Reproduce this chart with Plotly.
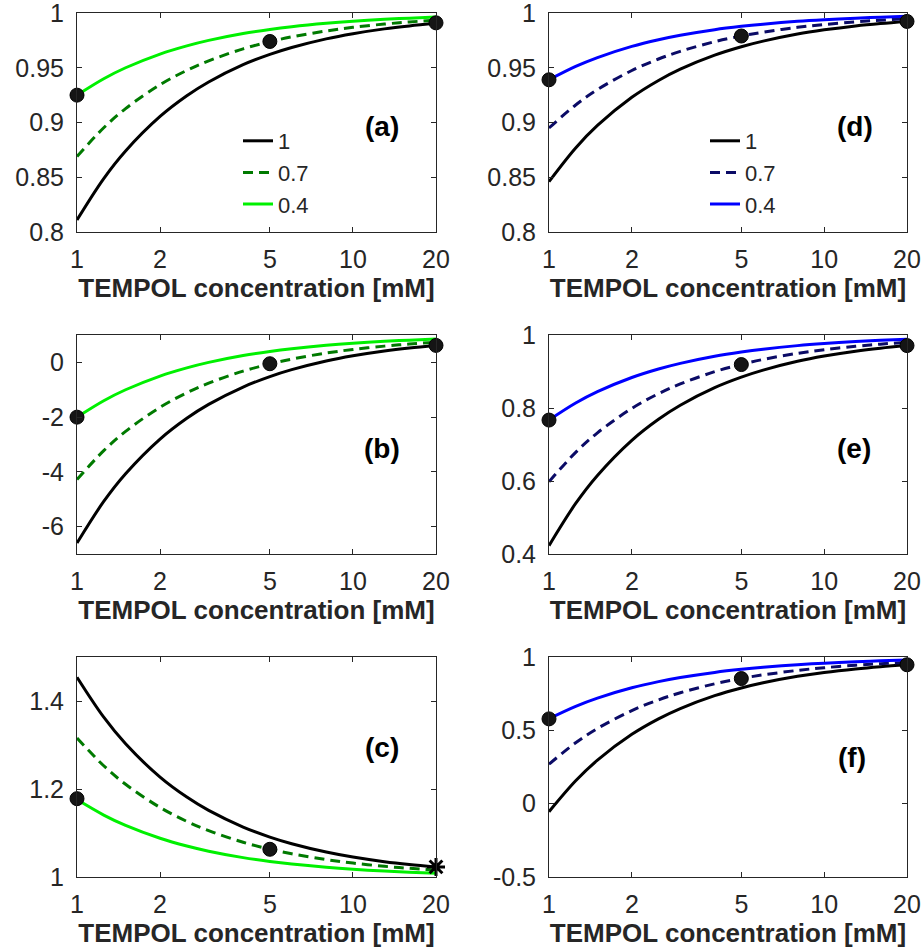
import plotly.graph_objects as go

# TEMPOL concentration grid [mM]
conc = [1, 1.25, 1.5, 2, 2.5, 3, 4, 5, 6, 8, 10, 13, 16, 20]

# Panel (a)
a_1 = [0.811, 0.8488, 0.874, 0.9055, 0.9244, 0.937, 0.9528, 0.9622, 0.9685, 0.9764, 0.9811, 0.9855, 0.9882, 0.9906]
a_07 = [0.869, 0.8952, 0.9127, 0.9345, 0.9476, 0.9563, 0.9673, 0.9738, 0.9782, 0.9836, 0.9869, 0.9899, 0.9918, 0.9935]
a_04 = [0.925, 0.94, 0.95, 0.9625, 0.97, 0.975, 0.9813, 0.985, 0.9875, 0.9906, 0.9925, 0.9942, 0.9953, 0.9963]
a_pts = [0.925, 0.974, 0.991]

# Panel (b)
b_1 = [-6.6, -5.08, -4.067, -2.8, -2.04, -1.533, -0.9, -0.52, -0.267, 0.05, 0.24, 0.4154, 0.525, 0.62]
b_07 = [-4.28, -3.224, -2.52, -1.64, -1.112, -0.76, -0.32, -0.056, 0.12, 0.34, 0.472, 0.5938, 0.67, 0.736]
b_04 = [-2.0, -1.4, -1.0, -0.5, -0.2, 0.0, 0.25, 0.4, 0.5, 0.625, 0.7, 0.7692, 0.8125, 0.85]
b_pts = [-2.0, -0.05, 0.62]

# Panel (c)
c_1 = [1.454, 1.3632, 1.3027, 1.227, 1.1816, 1.1513, 1.1135, 1.0908, 1.0757, 1.0568, 1.0454, 1.0349, 1.0284, 1.0227]
c_07 = [1.316, 1.2528, 1.2107, 1.158, 1.1264, 1.1053, 1.079, 1.0632, 1.0527, 1.0395, 1.0316, 1.0243, 1.0198, 1.0158]
c_04 = [1.176, 1.1408, 1.1173, 1.088, 1.0704, 1.0587, 1.044, 1.0352, 1.0293, 1.022, 1.0176, 1.0135, 1.011, 1.0088]
c_pts = [1.178, 1.063]
c_star = [1.023]

# Panel (d)
d_1 = [0.846, 0.8768, 0.8973, 0.923, 0.9384, 0.9487, 0.9615, 0.9692, 0.9743, 0.9808, 0.9846, 0.9882, 0.9904, 0.9923]
d_07 = [0.895, 0.916, 0.93, 0.9475, 0.958, 0.965, 0.9738, 0.979, 0.9825, 0.9869, 0.9895, 0.9919, 0.9934, 0.9948]
d_04 = [0.939, 0.9512, 0.9593, 0.9695, 0.9756, 0.9797, 0.9848, 0.9878, 0.9898, 0.9924, 0.9939, 0.9953, 0.9962, 0.997]
d_pts = [0.939, 0.979, 0.9923]

# Panel (e)
e_1 = [0.423, 0.5384, 0.6153, 0.7115, 0.7692, 0.8077, 0.8558, 0.8846, 0.9038, 0.9279, 0.9423, 0.9556, 0.9639, 0.9712]
e_07 = [0.598, 0.6784, 0.732, 0.799, 0.8392, 0.866, 0.8995, 0.9196, 0.933, 0.9498, 0.9598, 0.9691, 0.9749, 0.9799]
e_04 = [0.767, 0.8136, 0.8447, 0.8835, 0.9068, 0.9223, 0.9418, 0.9534, 0.9612, 0.9709, 0.9767, 0.9821, 0.9854, 0.9884]
e_pts = [0.767, 0.919, 0.971]

# Panel (f)
f_1 = [-0.055, 0.156, 0.2967, 0.4725, 0.578, 0.6483, 0.7363, 0.789, 0.8242, 0.8681, 0.8945, 0.9188, 0.9341, 0.9473]
f_07 = [0.269, 0.4152, 0.5127, 0.6345, 0.7076, 0.7563, 0.8173, 0.8538, 0.8782, 0.9086, 0.9269, 0.9438, 0.9543, 0.9635]
f_04 = [0.58, 0.664, 0.72, 0.79, 0.832, 0.86, 0.895, 0.916, 0.93, 0.9475, 0.958, 0.9677, 0.9738, 0.979]
f_pts = [0.578, 0.853, 0.947]

pts_x = [1, 5, 20]
series_names = ["1", "0.7", "0.4"]

x_ticks = [1, 2, 5, 10, 20]
x_ticktext = ["1", "2", "5", "10", "20"]

FONT = "Liberation Sans, Arial, Helvetica, sans-serif"
AX = "#262626"
GREEN_L = "#00F000"
GREEN_D = "#007A00"
BLUE_L = "#0000FF"
BLUE_D = "#0B0B66"

panels = [
    dict(key="a", col=0, row=0, ys=[a_1, a_07, a_04], cols=["black", GREEN_D, GREEN_L],
         pts=a_pts, yr=[0.8, 1.0], yt=[0.8, 0.85, 0.9, 0.95, 1.0],
         ytt=["0.8", "0.85", "0.9", "0.95", "1"], lab="(a)", lx=0.85, ly=0.48, legend="legend"),
    dict(key="b", col=0, row=1, ys=[b_1, b_07, b_04], cols=["black", GREEN_D, GREEN_L],
         pts=b_pts, yr=[-7, 1], yt=[-6, -4, -2, 0],
         ytt=["-6", "-4", "-2", "0"], lab="(b)", lx=0.85, ly=0.484, legend=None),
    dict(key="c", col=0, row=2, ys=[c_1, c_07, c_04], cols=["black", GREEN_D, GREEN_L],
         pts=c_pts, yr=[1.0, 1.5], yt=[1.0, 1.2, 1.4],
         ytt=["1", "1.2", "1.4"], lab="(c)", lx=0.85, ly=0.589, legend=None),
    dict(key="d", col=1, row=0, ys=[d_1, d_07, d_04], cols=["black", BLUE_D, BLUE_L],
         pts=d_pts, yr=[0.8, 1.0], yt=[0.8, 0.85, 0.9, 0.95, 1.0],
         ytt=["0.8", "0.85", "0.9", "0.95", "1"], lab="(d)", lx=0.855, ly=0.48, legend="legend2"),
    dict(key="e", col=1, row=1, ys=[e_1, e_07, e_04], cols=["black", BLUE_D, BLUE_L],
         pts=e_pts, yr=[0.4, 1.0], yt=[0.4, 0.6, 0.8, 1.0],
         ytt=["0.4", "0.6", "0.8", "1"], lab="(e)", lx=0.853, ly=0.484, legend=None),
    dict(key="f", col=1, row=2, ys=[f_1, f_07, f_04], cols=["black", BLUE_D, BLUE_L],
         pts=f_pts, yr=[-0.5, 1.0], yt=[-0.5, 0, 0.5, 1.0],
         ytt=["-0.5", "0", "0.5", "1"], lab="(f)", lx=0.845, ly=0.543, legend=None),
]

W, H = 924, 951
col_px = [(77, 436), (549, 907)]
row_px = [(13, 232), (335, 554), (657, 877)]

fig = go.Figure()
layout = {}
annotations = []

for i, p in enumerate(panels, start=1):
    xa = "x" if i == 1 else f"x{i}"
    ya = "y" if i == 1 else f"y{i}"
    x0, x1 = col_px[p["col"]]
    t, b = row_px[p["row"]]
    dashes = ["solid", "10px,6px", "solid"]
    for ys, c, dsh, nm in zip(p["ys"], p["cols"], dashes, series_names):
        fig.add_trace(go.Scatter(
            x=conc, y=ys, mode="lines", name=nm,
            line=dict(color=c, width=3, dash=dsh, shape="spline", smoothing=1.0),
            xaxis=xa, yaxis=ya,
            showlegend=p["legend"] is not None,
            legend=p["legend"] if p["legend"] else "legend",
            hoverinfo="skip",
        ))
    fig.add_trace(go.Scatter(
        x=pts_x[:len(p["pts"])], y=p["pts"], mode="markers",
        marker=dict(symbol="circle", size=14, color="#151515",
                    line=dict(color="black", width=1)),
        xaxis=xa, yaxis=ya, showlegend=False, cliponaxis=False,
    ))
    if p["key"] == "c":
        fig.add_trace(go.Scatter(
            x=[20], y=c_star, mode="markers",
            marker=dict(symbol="asterisk-open", size=15, color="black",
                        line=dict(color="black", width=3)),
            xaxis=xa, yaxis=ya, showlegend=False, cliponaxis=False,
        ))

    xkey = "xaxis" if i == 1 else f"xaxis{i}"
    ykey = "yaxis" if i == 1 else f"yaxis{i}"
    layout[xkey] = dict(
        domain=[x0 / W, x1 / W], anchor=ya, type="log", range=[0, 1.30103],
        tickvals=x_ticks, ticktext=x_ticktext, automargin=False,
        ticks="inside", ticklen=5, tickwidth=1, tickcolor=AX,
        showline=True, linecolor=AX, linewidth=1, mirror="ticks",
        showgrid=False, zeroline=False,
        ticklabeloverflow="allow", ticklabelstandoff=5,
        tickfont=dict(family=FONT, size=25, color=AX),
        title=dict(text="<b>TEMPOL concentration [mM]</b>",
                   font=dict(family=FONT, size=26, color=AX), standoff=0),
    )
    layout[ykey] = dict(
        domain=[1 - b / H, 1 - t / H], anchor=xa, range=p["yr"],
        tickvals=p["yt"], ticktext=p["ytt"], automargin=False,
        ticks="inside", ticklen=5, tickwidth=1, tickcolor=AX,
        showline=True, linecolor=AX, linewidth=1, mirror="ticks",
        showgrid=False, zeroline=False,
        ticklabeloverflow="allow", ticklabelstandoff=7,
        tickfont=dict(family=FONT, size=25, color=AX),
    )
    annotations.append(dict(
        text=f"<b>{p['lab']}</b>", xref=f"{xa} domain", yref=f"{ya} domain",
        x=p["lx"], y=p["ly"], xanchor="center", yanchor="middle",
        showarrow=False, font=dict(family=FONT, size=28, color="black"),
    ))

legend_style = dict(
    bgcolor="rgba(255,255,255,0)", borderwidth=0,
    font=dict(family=FONT, size=22, color=AX),
    xanchor="left", yanchor="top", tracegroupgap=0, itemwidth=30,
)

fig.update_layout(
    width=W, height=H,
    margin=dict(l=0, r=0, t=0, b=0, autoexpand=False),
    paper_bgcolor="white", plot_bgcolor="white",
    annotations=annotations,
    legend=dict(x=238 / W, y=1 - 120 / H, **legend_style),
    legend2=dict(x=705 / W, y=1 - 120 / H, **legend_style),
    **layout,
)

fig.write_html("out.html")
